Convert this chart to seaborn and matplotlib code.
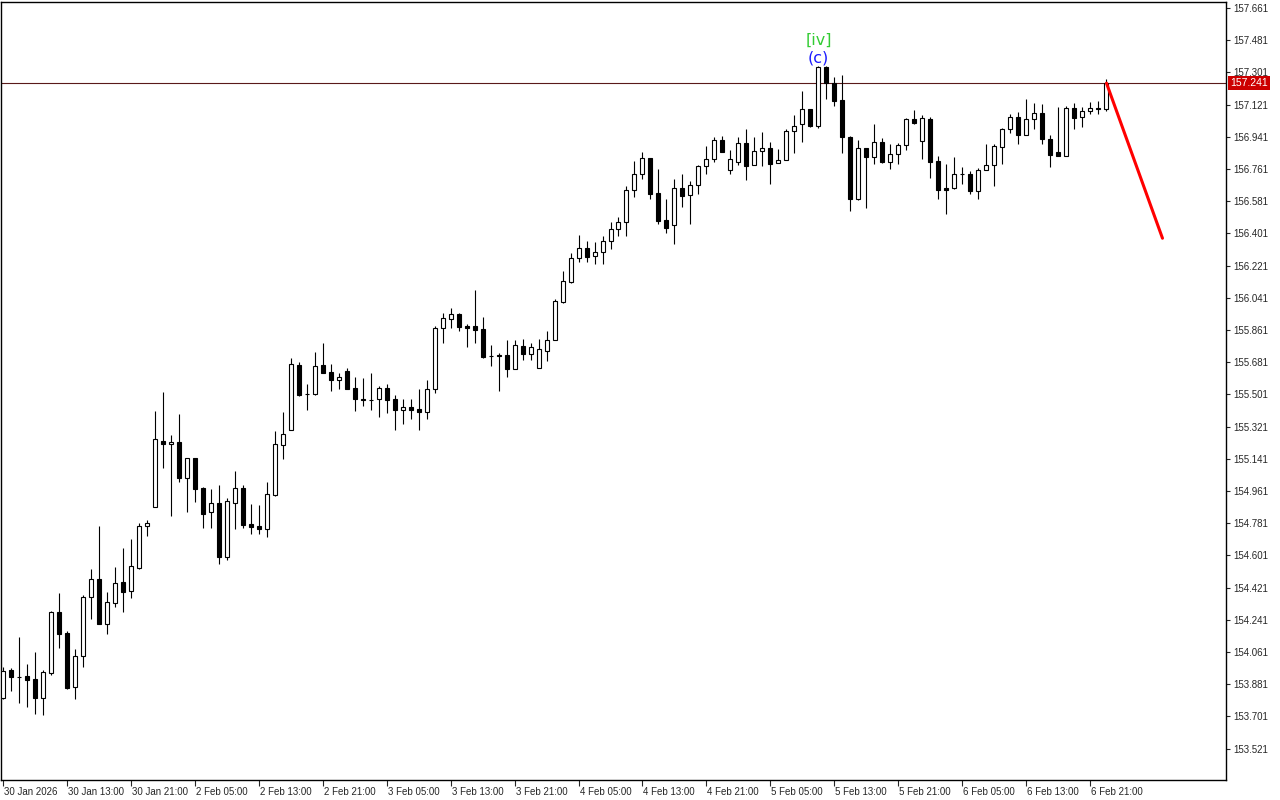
import numpy as np
import pandas as pd
import matplotlib
matplotlib.use("Agg")
import matplotlib.pyplot as plt
import matplotlib.transforms as mtransforms
import seaborn as sns

# hourly candles, 30 Jan 05:00 -> 6 Feb 23:00 (weekend skipped)
opens = [153.804, 153.961, 153.923, 153.927, 153.910, 153.806, 153.946, 154.283, 154.166, 153.864,
         154.041, 154.370, 154.468, 154.220, 154.337, 154.453, 154.400, 154.531, 154.764, 154.870,
         155.241, 155.222, 155.235, 155.036, 155.144, 154.980, 154.842, 154.894, 154.594, 154.896,
         154.978, 154.777, 154.766, 154.751, 154.939, 155.220, 155.301, 155.664, 155.505, 155.505,
         155.664, 155.625, 155.580, 155.632, 155.535, 155.476, 155.468, 155.474, 155.535, 155.474,
         155.416, 155.429, 155.418, 155.401, 155.530, 155.871, 155.921, 155.951, 155.884, 155.882,
         155.867, 155.714, 155.720, 155.720, 155.645, 155.770, 155.729, 155.651, 155.742, 155.804,
         156.018, 156.131, 156.262, 156.318, 156.273, 156.299, 156.357, 156.424, 156.463, 156.642,
         156.732, 156.821, 156.625, 156.476, 156.447, 156.653, 156.614, 156.669, 156.775, 156.816,
         156.923, 156.754, 156.802, 156.905, 156.782, 156.860, 156.877, 156.793, 156.810, 156.972,
         157.011, 157.095, 157.003, 157.330, 157.240, 157.145, 156.940, 156.592, 156.877, 156.827,
         156.911, 156.802, 156.843, 156.894, 157.039, 156.916, 157.041, 156.806, 156.653, 156.657,
         156.732, 156.732, 156.640, 156.754, 156.782, 156.883, 156.983, 157.050, 156.953, 157.039,
         157.073, 156.927, 156.855, 156.836, 157.101, 157.050, 157.084, 157.101, 157.095]
highs = [153.977, 153.974, 154.147, 153.994, 154.061, 153.961, 154.291, 154.389, 154.179, 154.077,
         154.380, 154.525, 154.766, 154.395, 154.536, 154.643, 154.693, 154.784, 154.799, 155.409,
         155.515, 155.274, 155.392, 155.144, 155.144, 154.982, 154.971, 154.993, 154.922, 155.073,
         154.993, 154.889, 154.883, 155.012, 155.297, 155.403, 155.703, 155.682, 155.559, 155.738,
         155.789, 155.671, 155.619, 155.649, 155.599, 155.593, 155.621, 155.548, 155.559, 155.498,
         155.476, 155.476, 155.533, 155.582, 155.885, 155.958, 155.984, 155.956, 155.895, 156.085,
         155.934, 155.777, 155.731, 155.805, 155.805, 155.809, 155.789, 155.809, 155.856, 156.033,
         156.191, 156.292, 156.392, 156.359, 156.353, 156.387, 156.465, 156.493, 156.666, 156.806,
         156.856, 156.821, 156.761, 156.594, 156.705, 156.733, 156.694, 156.784, 156.890, 156.938,
         156.946, 156.867, 156.938, 156.983, 156.938, 156.970, 156.912, 156.873, 156.983, 157.063,
         157.196, 157.095, 157.337, 157.337, 157.274, 157.287, 156.946, 156.923, 156.877, 157.015,
         156.933, 156.901, 156.908, 157.048, 157.091, 157.063, 157.050, 156.832, 156.789, 156.828,
         156.772, 156.750, 156.769, 156.901, 156.901, 156.990, 157.069, 157.080, 157.153, 157.130,
         157.125, 156.951, 157.108, 157.112, 157.130, 157.108, 157.134, 157.141, 157.264]
lows = [153.799, 153.845, 153.778, 153.756, 153.713, 153.709, 153.933, 154.085, 153.854, 153.799,
        153.979, 154.246, 154.218, 154.162, 154.315, 154.287, 154.365, 154.524, 154.711, 154.870,
        155.088, 154.823, 155.010, 154.846, 154.902, 154.756, 154.756, 154.552, 154.577, 154.751,
        154.754, 154.723, 154.723, 154.706, 154.935, 155.142, 155.301, 155.492, 155.414, 155.500,
        155.623, 155.520, 155.530, 155.533, 155.409, 155.436, 155.414, 155.377, 155.399, 155.304,
        155.336, 155.362, 155.304, 155.365, 155.511, 155.787, 155.874, 155.854, 155.768, 155.790,
        155.703, 155.662, 155.522, 155.599, 155.645, 155.695, 155.695, 155.651, 155.690, 155.804,
        156.012, 156.122, 156.241, 156.241, 156.230, 156.230, 156.314, 156.387, 156.387, 156.606,
        156.707, 156.594, 156.454, 156.404, 156.344, 156.549, 156.456, 156.623, 156.733, 156.802,
        156.858, 156.733, 156.784, 156.700, 156.782, 156.780, 156.679, 156.793, 156.810, 156.849,
        156.914, 156.998, 156.992, 157.154, 157.115, 156.852, 156.528, 156.588, 156.545, 156.791,
        156.797, 156.761, 156.791, 156.867, 157.011, 156.819, 156.713, 156.592, 156.508, 156.648,
        156.676, 156.622, 156.592, 156.754, 156.666, 156.791, 156.964, 156.903, 156.950, 156.987,
        156.899, 156.774, 156.832, 156.832, 156.987, 156.998, 157.070, 157.070, 157.087]
closes = [153.955, 153.923, 153.923, 153.905, 153.806, 153.948, 154.283, 154.164, 153.860, 154.039,
          154.367, 154.468, 154.220, 154.339, 154.445, 154.398, 154.540, 154.766, 154.782, 155.250,
          155.222, 155.235, 155.036, 155.144, 154.974, 154.834, 154.894, 154.594, 154.904, 154.976,
          154.771, 154.762, 154.751, 154.943, 155.224, 155.280, 155.670, 155.500, 155.505, 155.662,
          155.623, 155.583, 155.597, 155.533, 155.474, 155.468, 155.468, 155.535, 155.472, 155.416,
          155.429, 155.416, 155.405, 155.530, 155.871, 155.927, 155.949, 155.876, 155.875, 155.863,
          155.712, 155.714, 155.714, 155.645, 155.776, 155.725, 155.765, 155.753, 155.804, 156.022,
          156.134, 156.262, 156.318, 156.271, 156.296, 156.357, 156.424, 156.465, 156.642, 156.732,
          156.821, 156.623, 156.472, 156.433, 156.653, 156.612, 156.672, 156.776, 156.816, 156.923,
          156.858, 156.817, 156.905, 156.780, 156.862, 156.877, 156.791, 156.810, 156.972, 157.000,
          157.095, 157.003, 157.330, 157.240, 157.143, 156.942, 156.592, 156.877, 156.830, 156.911,
          156.802, 156.845, 156.894, 157.039, 157.020, 157.045, 156.802, 156.646, 156.646, 156.732,
          156.732, 156.640, 156.754, 156.782, 156.888, 156.983, 157.050, 156.953, 157.039, 157.073,
          156.931, 156.841, 156.832, 157.101, 157.048, 157.084, 157.101, 157.095, 157.241]

tick_bars = [0, 8, 16, 24, 32, 40, 48, 56, 64, 72, 80, 88, 96, 104, 112, 120, 128, 136]
tick_labels = ["30 Jan 2026", "30 Jan 13:00", "30 Jan 21:00", "2 Feb 05:00", "2 Feb 13:00",
               "2 Feb 21:00", "3 Feb 05:00", "3 Feb 13:00", "3 Feb 21:00", "4 Feb 05:00",
               "4 Feb 13:00", "4 Feb 21:00", "5 Feb 05:00", "5 Feb 13:00", "5 Feb 21:00",
               "6 Feb 05:00", "6 Feb 13:00", "6 Feb 21:00"]
price_ticks = [157.661, 157.481, 157.301, 157.121, 156.941, 156.761, 156.581, 156.401,
               156.221, 156.041, 155.861, 155.681, 155.501, 155.321, 155.141, 154.961,
               154.781, 154.601, 154.421, 154.241, 154.061, 153.881, 153.701, 153.521]

last_price = 157.241
proj_bars = [138, 145]
proj_prices = [157.241, 156.374]
wave_bar = 102
wave_top = "[iv]"
wave_sub = "(c)"

sns.set_style("white")
plt.rcParams['font.family'] = ['Liberation Sans', 'DejaVu Sans']

df = pd.DataFrame({"open": opens, "high": highs, "low": lows, "close": closes})
df["bar"] = np.arange(len(df))
up = df["close"] >= df["open"]

fig = plt.figure(figsize=(12.8, 8), dpi=100)
ax = fig.add_axes([1 / 1280, 20 / 800, 1225 / 1280, 778 / 800])

# wicks then bodies
ax.vlines(df["bar"], df["low"], df["high"], color="black", linewidth=0.8, zorder=2)
ax.bar(df["bar"], (df["close"] - df["open"]).abs(),
       bottom=df[["open", "close"]].min(axis=1), width=0.5,
       color=np.where(up, "white", "black"), edgecolor="black", linewidth=0.8, zorder=3)

ax.axhline(last_price, color="#5a1a1a", linewidth=0.8, zorder=1)
sns.lineplot(x=proj_bars, y=proj_prices, ax=ax, color="red", linewidth=2.2, zorder=4)

ax.text(wave_bar, 157.482, wave_top, color="#33cc33", fontsize=11.5,
        family="DejaVu Sans", ha="center", va="center")
ax.text(wave_bar, 157.384, wave_sub, color="#1a1aff", fontsize=11.5,
        family="DejaVu Sans", ha="center", va="center")

ax.set_xlim(-0.19, 152.94)
ax.set_ylim(153.3457, 157.6945)

ax.yaxis.tick_right()
ax.set_yticks(price_ticks)
ax.set_yticklabels([f"{p:.3f}" for p in price_ticks])
ax.tick_params(axis="y", length=3, width=0.8, pad=2, labelsize=7, direction="out", right=True)
ax.set_xticks(tick_bars)
ax.set_xticklabels(tick_labels, ha="left")
ax.tick_params(axis="x", length=4, width=0.8, pad=1, labelsize=7, direction="out", bottom=True)
for lab in ax.get_xticklabels():
    lab.set_transform(lab.get_transform() + mtransforms.ScaledTranslation(1 / 100, 0, fig.dpi_scale_trans))

trans = mtransforms.blended_transform_factory(ax.transAxes, ax.transData)
ax.text(1.0035, last_price, f"{last_price:.3f}", transform=trans, color="white", fontsize=7.5,
        va="center", ha="left",
        bbox=dict(boxstyle="square,pad=0.22", facecolor="#cc0000", edgecolor="none"))

for s in ax.spines.values():
    s.set_color("black")
    s.set_linewidth(1)
ax.grid(False)
ax.set_xlabel("")
ax.set_ylabel("")

fig.savefig("out.png", dpi=100, facecolor="white")
